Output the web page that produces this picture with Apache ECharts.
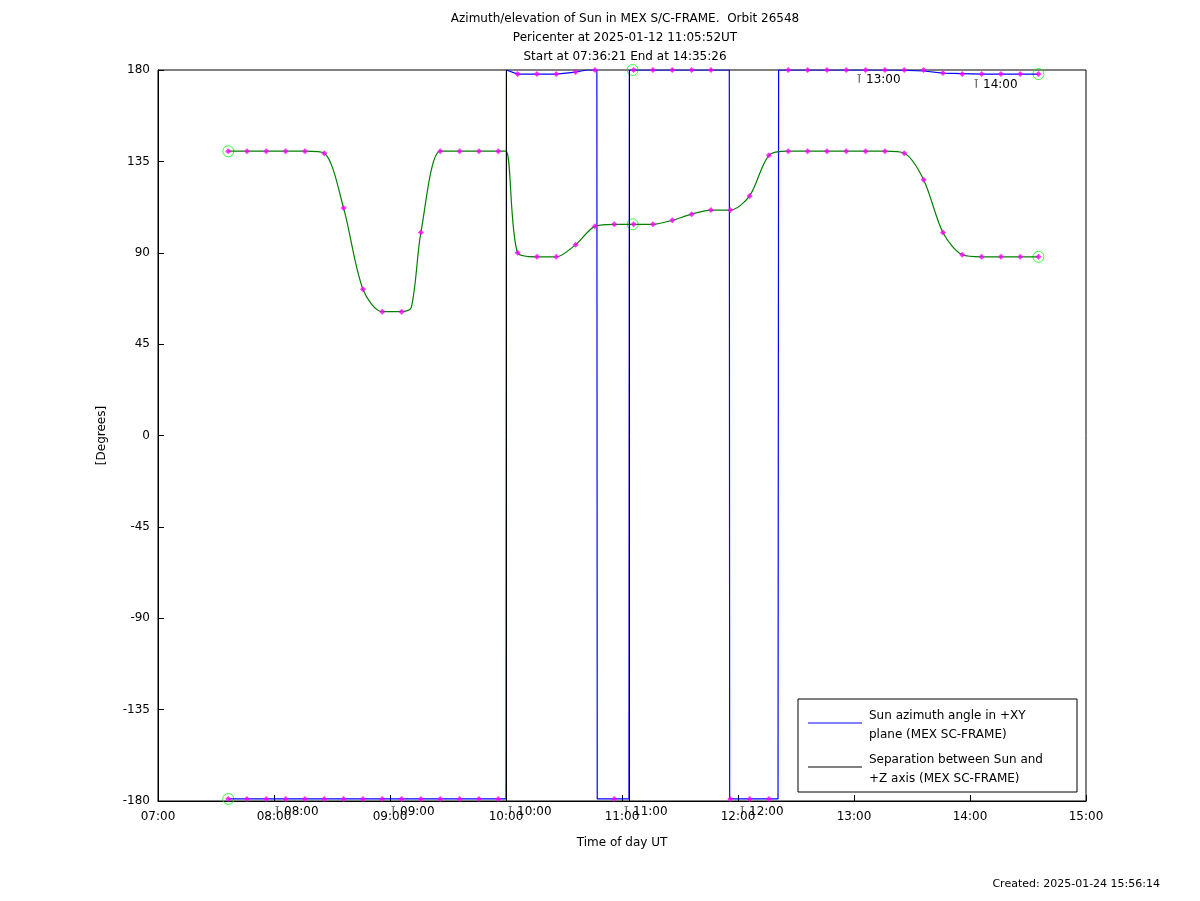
<!DOCTYPE html>
<html><head><meta charset="utf-8">
<script src="https://cdn.jsdelivr.net/npm/echarts@6/dist/echarts.min.js"></script>
<style>body{margin:0;background:#fff}#c{width:1200px;height:901px}</style></head>
<body><div id="c"></div>
<script>
// time in minutes after 07:00
const sepT = [36.35,46,56,66,76,86,96,106,116,126,131,136,146,156,166,176,180,186,196,206,216,226,236,246,256,266,276,286,296,306,316,326,336,346,356,366,376,386,396,406,416,426,436,446,455.4];
const sepV = [140,140,140,140,140,139,112,72,61,61,63,100,140,140,140,140,140,90,88,88,94,103,104,104,104,106,109,111,111,118,138,140,140,140,140,140,140,139,126,100,89,88,88,88,88];
const azT = [36.35,180,180.2,186,196,206,216,222,227,227.2,243.6,243.8,295.5,295.7,320.7,321,380,396,406,426,446,455.4];
const azV = [-179,-179,180,178,178,178,179,180,180,-179,-179,180,180,-179,-179,180,180,179.5,178.5,178,178,178];
const mkT = [36.35,46,56,66,76,86,96,106,116,126,136,146,156,166,176,186,196,206,216,226,236,246,256,266,276,286,296,306,316,326,336,346,356,366,376,386,396,406,416,426,436,446,455.4];
const mkAz = [-179,-179,-179,-179,-179,-179,-179,-179,-179,-179,-179,-179,-179,-179,-179,178,178,178,179,180,-179,180,180,180,180,180,-179,-179,-179,180,180,180,180,180,180,180,180,178.5,178,178,178,178,178];
const xTicks = ['07:00','08:00','09:00','10:00','11:00','12:00','13:00','14:00','15:00'];
const yTicks = [-180,-135,-90,-45,0,45,90,135,180];

const chart = echarts.init(document.getElementById('c'));
const fnt = {fontFamily:'DejaVu Sans',fontSize:12,color:'#000'};
const mk = {symbol:'diamond',symbolSize:6,itemStyle:{color:'#ff00ff'},z:5};
chart.setOption({
  animation:false,
  title:{text:'Azimuth/elevation of Sun in MEX S/C-FRAME.  Orbit 26548\nPericenter at 2025-01-12 11:05:52UT\nStart at 07:36:21 End at 14:35:26',
    left:620,top:4,textAlign:'center',textStyle:{fontFamily:'DejaVu Sans',fontSize:12,fontWeight:'normal',lineHeight:19,color:'#000'}},
  grid:{left:158,right:114,top:70,bottom:100},
  xAxis:{type:'value',min:0,max:480,interval:60,name:'Time of day UT',nameLocation:'middle',nameGap:36,nameTextStyle:fnt,
    axisLine:{onZero:false,lineStyle:{color:'#000'}},axisTick:{inside:true,length:6,lineStyle:{color:'#000'}},
    axisLabel:{...fnt,margin:10,formatter:v=>xTicks[v/60]},splitLine:{show:false}},
  yAxis:{type:'value',min:-180,max:180,interval:45,name:'[Degrees]',nameLocation:'middle',nameGap:50,nameTextStyle:fnt,nameRotate:90,
    axisLine:{onZero:false,lineStyle:{color:'#000'}},axisTick:{inside:true,length:6,lineStyle:{color:'#000'}},
    axisLabel:{...fnt,formatter:v=>String(yTicks[(v+180)/45])},splitLine:{show:false}},
  series:[
    {name:'az',type:'line',data:azT.map((t,i)=>[t,azV[i]]),symbol:'none',lineStyle:{color:'#0000ff',width:1.2},
     markLine:{silent:true,symbol:'none',label:{show:false},lineStyle:{color:'#000',width:1,type:'solid'},data:[{xAxis:180},{xAxis:244}]}},
    {name:'sep',type:'line',smooth:0.3,data:sepT.map((t,i)=>[t,sepV[i]]),symbol:'none',lineStyle:{color:'#008000',width:1.2}},
    {type:'scatter',data:mkT.map((t,i)=>[t,sepV[sepT.indexOf(t)]]),...mk},
    {type:'scatter',data:mkT.map((t,i)=>[t,mkAz[i]]),...mk},
    {type:'scatter',data:[[36.35,140],[36.35,-179],[245.5,180],[245.5,104],[455.4,178],[455.4,88]],symbol:'circle',symbolSize:11,
     itemStyle:{color:'none',borderColor:'#00ff00',borderWidth:1}}
  ],
  graphic:[
    {type:'rect',shape:{x:158,y:70,width:928,height:731},style:{fill:'none',stroke:'#000',lineWidth:1},silent:true},
    {type:'rect',shape:{x:798,y:699,width:279,height:93},style:{fill:'#fff',stroke:'#000',lineWidth:1}},
    {type:'line',shape:{x1:808,y1:723,x2:862,y2:723},style:{stroke:'#0000ff',lineWidth:1}},
    {type:'line',shape:{x1:808,y1:767,x2:862,y2:767},style:{stroke:'#000',lineWidth:1}},
    {type:'text',left:869,top:706,style:{text:'Sun azimuth angle in +XY\nplane (MEX SC-FRAME)',font:'12px DejaVu Sans',lineHeight:19,fill:'#000'}},
    {type:'text',left:869,top:750,style:{text:'Separation between Sun and\n+Z axis (MEX SC-FRAME)',font:'12px DejaVu Sans',lineHeight:19,fill:'#000'}},
    {type:'text',left:856,top:74,style:{text:'⊺ 13:00',font:'12px DejaVu Sans',fill:'#000'}},
    {type:'text',left:973,top:79,style:{text:'⊺ 14:00',font:'12px DejaVu Sans',fill:'#000'}},
    {type:'text',left:274,top:806,style:{text:'⊺ 08:00',font:'12px DejaVu Sans',fill:'#000'}},
    {type:'text',left:390,top:806,style:{text:'⊺ 09:00',font:'12px DejaVu Sans',fill:'#000'}},
    {type:'text',left:507,top:806,style:{text:'⊺ 10:00',font:'12px DejaVu Sans',fill:'#000'}},
    {type:'text',left:623,top:806,style:{text:'⊺ 11:00',font:'12px DejaVu Sans',fill:'#000'}},
    {type:'text',left:739,top:806,style:{text:'⊺ 12:00',font:'12px DejaVu Sans',fill:'#000'}},
    {type:'text',right:40,top:879,style:{text:'Created: 2025-01-24 15:56:14',font:'11px DejaVu Sans',fill:'#000'}}
  ]
});
</script></body></html>
